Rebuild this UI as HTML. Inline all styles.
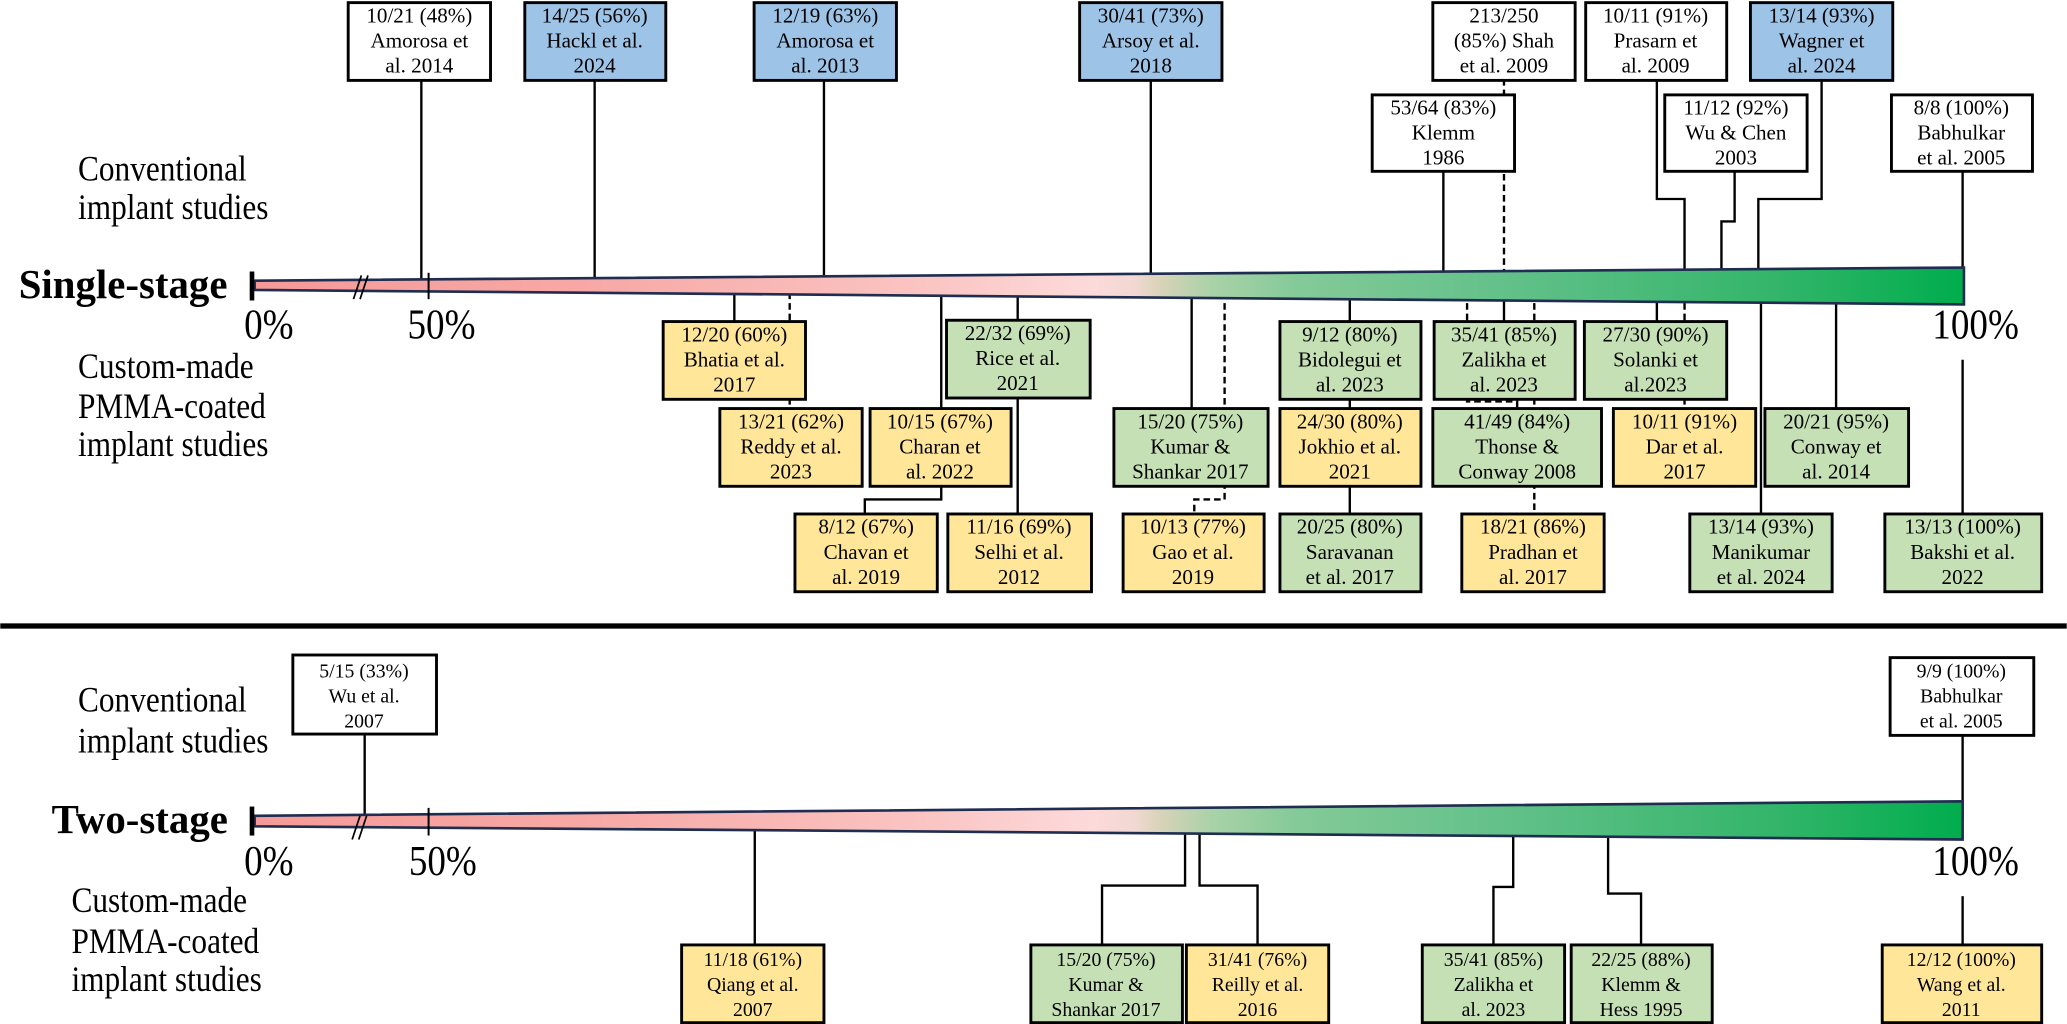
<!DOCTYPE html>
<html><head><meta charset="utf-8"><style>html,body{margin:0;padding:0;background:#fff}svg{display:block}
.lab text{transform-box:fill-box;transform-origin:0 50%;transform:scaleX(0.88)}
</style></head>
<body>
<svg width="2067" height="1024" viewBox="0 0 1568 777" xmlns="http://www.w3.org/2000/svg" font-family="'Liberation Serif', serif">
<defs>
<linearGradient id="g" gradientUnits="userSpaceOnUse" x1="193" y1="0" x2="1490" y2="0">
<stop offset="0" stop-color="#F59A97"/><stop offset="0.2" stop-color="#F7A9A6"/><stop offset="0.39" stop-color="#FAC4C2"/><stop offset="0.49" stop-color="#FCDADA"/><stop offset="0.515" stop-color="#F2D8D2"/><stop offset="0.53" stop-color="#D8D3B8"/><stop offset="0.56" stop-color="#A9D2A8"/><stop offset="0.61" stop-color="#84CA98"/><stop offset="0.74" stop-color="#60C088"/><stop offset="0.89" stop-color="#33B56A"/><stop offset="1" stop-color="#00AD4D"/>
</linearGradient>
</defs>
<rect width="1568" height="777" fill="#fff"/>

<g stroke="#000" stroke-width="1.8" fill="none">
<line x1="319.5" y1="40" x2="319.5" y2="214"/>
<line x1="451" y1="60" x2="451" y2="214"/>
<line x1="625" y1="60" x2="625" y2="214"/>
<line x1="873" y1="60" x2="873" y2="214"/>
<line x1="1095" y1="130" x2="1095" y2="214"/>
<polyline points="1257,60 1257,151 1278,151 1278,214"/>
<polyline points="1316,130 1316,168 1306,168 1306,214"/>
<polyline points="1382,60 1382,151 1334,151 1334,214"/>
<line x1="1489" y1="130" x2="1489" y2="214"/>
<line x1="557" y1="214" x2="557" y2="244"/>
<line x1="714" y1="214" x2="714" y2="310"/>
<polyline points="714,368 714,379 656,379 656,390"/>
<line x1="772" y1="214" x2="772" y2="390"/>
<line x1="904" y1="214" x2="904" y2="310"/>
<line x1="1024" y1="214" x2="1024" y2="390"/>
<line x1="1141" y1="214" x2="1141" y2="244"/>
<line x1="1257" y1="214" x2="1257" y2="244"/>
<line x1="1336" y1="214" x2="1336" y2="390"/>
<line x1="1393" y1="214" x2="1393" y2="310"/>
<line x1="1489" y1="273" x2="1489" y2="390"/>
</g>
<g stroke="#000" stroke-width="1.8" fill="none" stroke-dasharray="5,3">
<line x1="1141" y1="60" x2="1141" y2="214"/>
<line x1="599" y1="214" x2="599" y2="310"/>
<polyline points="929,214 929,379 906,379 906,390"/>
<polyline points="1113,214 1113,304.6 1151,304.6 1151,310"/>
<line x1="1164" y1="214" x2="1164" y2="390"/>
<line x1="1278" y1="214" x2="1278" y2="310"/>
</g>

<polygon points="193,213 1490,203 1490,231 193,220" fill="url(#g)" stroke="#1F2D50" stroke-width="2"/>
<line x1="191" y1="206" x2="191" y2="228" stroke="#000" stroke-width="3.5"/>
<line x1="325" y1="207" x2="325" y2="227" stroke="#000" stroke-width="1.5"/>
<line x1="268" y1="227" x2="274" y2="209" stroke="#000" stroke-width="1.3"/>
<line x1="273" y1="227" x2="279" y2="209" stroke="#000" stroke-width="1.3"/>

<g stroke="#000" stroke-width="1.8" fill="none">
<line x1="276.5" y1="557" x2="276.5" y2="622"/>
<line x1="1489" y1="558" x2="1489" y2="622"/>
<line x1="572.5" y1="622" x2="572.5" y2="717"/>
<polyline points="899,622 899,672 836,672 836,717"/>
<polyline points="910,622 910,672 954,672 954,717"/>
<polyline points="1148,622 1148,673 1133,673 1133,717"/>
<polyline points="1220,622 1220,678 1245,678 1245,717"/>
<line x1="1489" y1="680" x2="1489" y2="717"/>
</g>
<polygon points="193,619 1489,608 1489,637 193,627" fill="url(#g)" stroke="#1F2D50" stroke-width="2"/>
<line x1="191" y1="612" x2="191" y2="634" stroke="#000" stroke-width="3.5"/>
<line x1="325" y1="613" x2="325" y2="634" stroke="#000" stroke-width="1.5"/>
<line x1="267" y1="637" x2="273" y2="619" stroke="#000" stroke-width="1.3"/>
<line x1="272" y1="637" x2="278" y2="619" stroke="#000" stroke-width="1.3"/>

<rect x="0" y="473" width="1568" height="4" fill="#000"/>

<g class="lab" font-size="27" fill="#000">
<text x="59" y="137">Conventional</text>
<text x="59" y="166">implant studies</text>
<text x="59" y="287">Custom-made</text>
<text x="59" y="317">PMMA-coated</text>
<text x="59" y="346">implant studies</text>
<text x="59" y="540">Conventional</text>
<text x="59" y="571">implant studies</text>
<text x="54" y="692">Custom-made</text>
<text x="54" y="723">PMMA-coated</text>
<text x="54" y="752">implant studies</text>
</g>
<g class="lab" font-size="32" fill="#000">
<text x="185" y="257">0%</text><text x="309" y="257">50%</text><text x="1466" y="257">100%</text>
<text x="185" y="664">0%</text><text x="310" y="664">50%</text><text x="1466" y="664">100%</text>
</g>
<g font-size="31" font-weight="bold" fill="#000">
<text x="14" y="226">Single-stage</text>
<text x="39" y="632">Two-stage</text>
</g>

<g stroke="#000" stroke-width="2.2">
<rect x="264" y="2" width="108" height="59" fill="#fff"/>
<rect x="398" y="2" width="107" height="59" fill="#9DC3E6"/>
<rect x="572" y="2" width="108" height="59" fill="#9DC3E6"/>
<rect x="819" y="2" width="108" height="59" fill="#9DC3E6"/>
<rect x="1087" y="2" width="108" height="59" fill="#fff"/>
<rect x="1203" y="2" width="107" height="59" fill="#fff"/>
<rect x="1328" y="2" width="108" height="59" fill="#9DC3E6"/>
<rect x="1041" y="72" width="108" height="58" fill="#fff"/>
<rect x="1263" y="72" width="108" height="58" fill="#fff"/>
<rect x="1435" y="72" width="107" height="58" fill="#fff"/>

<rect x="503" y="244" width="108" height="59" fill="#FFE699"/>
<rect x="718" y="243" width="109" height="59" fill="#C5E0B4"/>
<rect x="971" y="244" width="107" height="59" fill="#C5E0B4"/>
<rect x="1088" y="244" width="107" height="59" fill="#C5E0B4"/>
<rect x="1202" y="244" width="108" height="59" fill="#C5E0B4"/>

<rect x="546" y="310" width="108" height="59" fill="#FFE699"/>
<rect x="660" y="310" width="107" height="59" fill="#FFE699"/>
<rect x="845" y="310" width="117" height="59" fill="#C5E0B4"/>
<rect x="971" y="310" width="107" height="59" fill="#FFE699"/>
<rect x="1087" y="310" width="128" height="59" fill="#C5E0B4"/>
<rect x="1224" y="310" width="108" height="59" fill="#FFE699"/>
<rect x="1339" y="310" width="109" height="59" fill="#C5E0B4"/>

<rect x="603" y="390" width="108" height="59" fill="#FFE699"/>
<rect x="719" y="390" width="109" height="59" fill="#FFE699"/>
<rect x="852" y="390" width="107" height="59" fill="#FFE699"/>
<rect x="971" y="390" width="107" height="59" fill="#C5E0B4"/>
<rect x="1109" y="390" width="108" height="59" fill="#FFE699"/>
<rect x="1282" y="390" width="108" height="59" fill="#C5E0B4"/>
<rect x="1430" y="390" width="119" height="59" fill="#C5E0B4"/>

<rect x="222" y="497" width="109" height="60" fill="#fff"/>
<rect x="1434" y="499" width="109" height="59" fill="#fff"/>
<rect x="517" y="717" width="108" height="59" fill="#FFE699"/>
<rect x="782" y="717" width="115" height="59" fill="#C5E0B4"/>
<rect x="900" y="717" width="108" height="59" fill="#FFE699"/>
<rect x="1079" y="717" width="108" height="59" fill="#C5E0B4"/>
<rect x="1192" y="717" width="107" height="59" fill="#C5E0B4"/>
<rect x="1428" y="717" width="121" height="59" fill="#FFE699"/>
</g>

<g font-size="16" text-anchor="middle" fill="#000">
<text x="318" y="17">10/21 (48%)</text><text x="318" y="36">Amorosa et</text><text x="318" y="55">al. 2014</text>
<text x="451" y="17">14/25 (56%)</text><text x="451" y="36">Hackl et al.</text><text x="451" y="55">2024</text>
<text x="626" y="17">12/19 (63%)</text><text x="626" y="36">Amorosa et</text><text x="626" y="55">al. 2013</text>
<text x="873" y="17">30/41 (73%)</text><text x="873" y="36">Arsoy et al.</text><text x="873" y="55">2018</text>
<text x="1141" y="17">213/250</text><text x="1141" y="36">(85%) Shah</text><text x="1141" y="55">et al. 2009</text>
<text x="1256" y="17">10/11 (91%)</text><text x="1256" y="36">Prasarn et</text><text x="1256" y="55">al. 2009</text>
<text x="1382" y="17">13/14 (93%)</text><text x="1382" y="36">Wagner et</text><text x="1382" y="55">al. 2024</text>
<text x="1095" y="87">53/64 (83%)</text><text x="1095" y="106">Klemm</text><text x="1095" y="125">1986</text>
<text x="1317" y="87">11/12 (92%)</text><text x="1317" y="106">Wu &amp; Chen</text><text x="1317" y="125">2003</text>
<text x="1488" y="87">8/8 (100%)</text><text x="1488" y="106">Babhulkar</text><text x="1488" y="125">et al. 2005</text>

<text x="557" y="259">12/20 (60%)</text><text x="557" y="278">Bhatia et al.</text><text x="557" y="297">2017</text>
<text x="772" y="258">22/32 (69%)</text><text x="772" y="277">Rice et al.</text><text x="772" y="296">2021</text>
<text x="1024" y="259">9/12 (80%)</text><text x="1024" y="278">Bidolegui et</text><text x="1024" y="297">al. 2023</text>
<text x="1141" y="259">35/41 (85%)</text><text x="1141" y="278">Zalikha et</text><text x="1141" y="297">al. 2023</text>
<text x="1256" y="259">27/30 (90%)</text><text x="1256" y="278">Solanki et</text><text x="1256" y="297">al.2023</text>

<text x="600" y="325">13/21 (62%)</text><text x="600" y="344">Reddy et al.</text><text x="600" y="363">2023</text>
<text x="713" y="325">10/15 (67%)</text><text x="713" y="344">Charan et</text><text x="713" y="363">al. 2022</text>
<text x="903" y="325">15/20 (75%)</text><text x="903" y="344">Kumar &amp;</text><text x="903" y="363">Shankar 2017</text>
<text x="1024" y="325">24/30 (80%)</text><text x="1024" y="344">Jokhio et al.</text><text x="1024" y="363">2021</text>
<text x="1151" y="325">41/49 (84%)</text><text x="1151" y="344">Thonse &amp;</text><text x="1151" y="363">Conway 2008</text>
<text x="1278" y="325">10/11 (91%)</text><text x="1278" y="344">Dar et al.</text><text x="1278" y="363">2017</text>
<text x="1393" y="325">20/21 (95%)</text><text x="1393" y="344">Conway et</text><text x="1393" y="363">al. 2014</text>

<text x="657" y="405">8/12 (67%)</text><text x="657" y="424">Chavan et</text><text x="657" y="443">al. 2019</text>
<text x="773" y="405">11/16 (69%)</text><text x="773" y="424">Selhi et al.</text><text x="773" y="443">2012</text>
<text x="905" y="405">10/13 (77%)</text><text x="905" y="424">Gao et al.</text><text x="905" y="443">2019</text>
<text x="1024" y="405">20/25 (80%)</text><text x="1024" y="424">Saravanan</text><text x="1024" y="443">et al. 2017</text>
<text x="1163" y="405">18/21 (86%)</text><text x="1163" y="424">Pradhan et</text><text x="1163" y="443">al. 2017</text>
<text x="1336" y="405">13/14 (93%)</text><text x="1336" y="424">Manikumar</text><text x="1336" y="443">et al. 2024</text>
<text x="1489" y="405">13/13 (100%)</text><text x="1489" y="424">Bakshi et al.</text><text x="1489" y="443">2022</text>
</g>
<g font-size="15" text-anchor="middle" fill="#000">
<text x="276" y="514">5/15 (33%)</text><text x="276" y="533">Wu et al.</text><text x="276" y="552">2007</text>
<text x="1488" y="514">9/9 (100%)</text><text x="1488" y="533">Babhulkar</text><text x="1488" y="552">et al. 2005</text>
<text x="571" y="733">11/18 (61%)</text><text x="571" y="752">Qiang et al.</text><text x="571" y="771">2007</text>
<text x="839" y="733">15/20 (75%)</text><text x="839" y="752">Kumar &amp;</text><text x="839" y="771">Shankar 2017</text>
<text x="954" y="733">31/41 (76%)</text><text x="954" y="752">Reilly et al.</text><text x="954" y="771">2016</text>
<text x="1133" y="733">35/41 (85%)</text><text x="1133" y="752">Zalikha et</text><text x="1133" y="771">al. 2023</text>
<text x="1245" y="733">22/25 (88%)</text><text x="1245" y="752">Klemm &amp;</text><text x="1245" y="771">Hess  1995</text>
<text x="1488" y="733">12/12 (100%)</text><text x="1488" y="752">Wang et al.</text><text x="1488" y="771">2011</text>
</g>
</svg>
</body></html>
